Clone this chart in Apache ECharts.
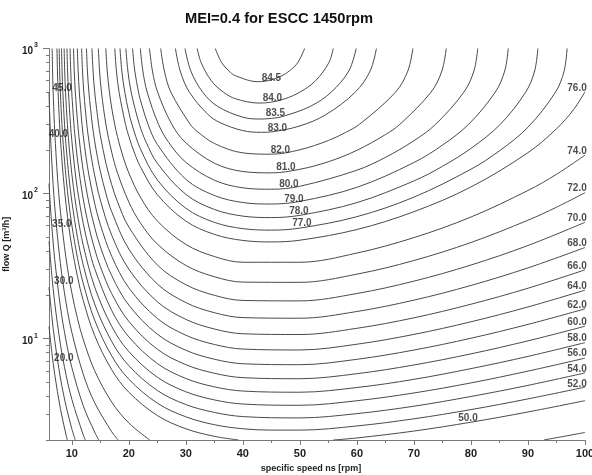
<!DOCTYPE html>
<html><head><meta charset="utf-8">
<script src="https://cdn.jsdelivr.net/npm/echarts@6/dist/echarts.min.js"></script>
<style>html,body{margin:0;padding:0;background:#fff}#chart{width:592px;height:475px}</style>
</head><body><div id="chart"></div>
<script>
// Contour lines: each point is [specific speed ns, flow Q]; null = gap
const c20 = [[6,12.11],[6.5,8.02],[7,5.69],[8,3.29],[9,2.16],[9.215,2]];
const c25 = [[6,22.6],[6.5,14.23],[7,9.73],[8,5.36],[9,3.42],[10,2.39],[10.6,2]];
const c30 = [[6,46.9],[6.5,27.3],[7,17.71],[8,9.15],[9,5.6],[10,3.82],[12,2.17],[12.37,2]];
const c35 = [[6,117.1],[6.25,80.9],[6.5,59.1],[7,35.3],[8,16.59],[9,9.63],[10,6.34],[12,3.45],[14,2.27],[14.74,2]];
const c40 = [[6,498.6],[6.1,369],[6.25,258],[6.5,162],[7,81.9],[8,32.9],[9,17.63],[10,11.07],[12,5.7],[14,3.62],[17,2.28],[18.12,2]];
const c45 = [[6.554,1000],[6.625,700],[6.705,530],[6.939,300],[7,267.3],[7.5,127.6],[8,75.4],[9,35.5],[10,20.73],[11,13.73],[12,9.88],[14,6.02],[17,3.65],[20,2.62],[23.66,2],null,[92.77,2],[96,2.108],[100,2.254]];
const c50 = [[7.395,1000],[7.478,700],[7.595,500],[7.851,300],[8,238.3],[8.5,130.9],[9,83.6],[9.5,58.4],[10,43.2],[11,26.67],[12,18.33],[14,10.53],[17,6.1],[20,4.27],[25,2.95],[30,2.39],[35,2.12],[39.27,2],null,[55.88,2],[60,2.066],[70,2.305],[80,2.653],[90,3.121],[100,3.734]];
const c52 = [[7.78,1000],[7.869,700],[7.994,500],[8.27,300],[8.5,217.7],[9,127.6],[9.5,84.7],[10,60.7],[11,35.9],[12,24.06],[14,13.43],[17,7.6],[20,5.25],[25,3.59],[30,2.89],[35,2.55],[40,2.39],[45,2.34],[50,2.34],[60,2.5],[70,2.8],[80,3.24],[90,3.84],[100,4.63]];
const c54 = [[8.197,1000],[8.292,700],[8.428,500],[8.725,300],[9,211.5],[9.5,129.7],[10,88.6],[11,49.6],[12,32.2],[14,17.34],[17,9.55],[20,6.51],[25,4.39],[30,3.51],[35,3.1],[40,2.9],[50,2.84],[60,3.04],[70,3.42],[80,3.99],[90,4.76],[100,5.8]];
const c56 = [[8.652,1000],[8.754,700],[8.901,500],[9.223,300],[9.5,216.6],[10,136.9],[10.5,95.5],[11,70.9],[12,44.1],[14,22.73],[17,12.14],[20,8.14],[25,5.42],[30,4.3],[35,3.78],[40,3.54],[50,3.47],[60,3.73],[70,4.22],[80,4.95],[90,5.97],[100,7.33]];
const c58 = [[9.149,1000],[9.259,700],[9.418,500],[9.769,300],[10,232.6],[10.5,150],[11,106.1],[12,62.4],[13,41.8],[14,30.4],[17,15.62],[20,10.28],[25,6.73],[30,5.31],[35,4.65],[40,4.35],[50,4.27],[60,4.6],[70,5.24],[80,6.21],[90,7.54],[100,9.38]];
const c60 = [[9.695,1000],[9.814,700],[9.987,500],[10.372,300],[10.5,262.4],[11,170.4],[12,91.9],[13,58.8],[14,41.55],[15,31.4],[17,20.41],[20,13.14],[25,8.45],[30,6.61],[35,5.77],[40,5.38],[50,5.29],[60,5.73],[70,6.58],[80,7.85],[90,9.65],[100,12.17]];
const c62 = [[10.299,1000],[10.428,700],[10.618,500],[11.042,300],[11.5,202],[12,144],[13,86.1],[14,58.6],[15,43.1],[17,27.15],[20,17.02],[25,10.72],[30,8.31],[35,7.21],[40,6.71],[50,6.61],[60,7.2],[70,8.34],[80,10.06],[90,12.53],[100,16.04]];
const c64 = [[10.97,1000],[11.111,700],[11.319,500],[11.789,300],[12,251.3],[12.5,177.5],[13,133.9],[14,85.9],[15,61.1],[17,36.9],[20,22.4],[25,13.77],[30,10.55],[35,9.11],[40,8.47],[50,8.35],[60,9.15],[70,10.69],[80,13.06],[90,16.53],[100,21.58]];
const c66 = [[11.721,1000],[11.876,700],[12.106,500],[12.631,300],[13,229.8],[13.5,171.1],[14,133.9],[15,90.3],[17,51.6],[20,30.1],[25,17.95],[30,13.57],[35,11.65],[40,10.8],[50,10.67],[60,11.78],[70,13.91],[80,17.26],[90,22.25],[100,29.79]];
const c68 = [[12.568,1000],[12.74,700],[12.997,500],[13.589,300],[14,231],[14.5,177.7],[15,142.5],[16,99.5],[17,74.9],[20,41.4],[25,23.79],[30,17.71],[35,15.09],[40,13.96],[50,13.82],[60,15.38],[70,18.42],[80,23.25],[90,30.73],[100,42.46]];
const c70 = [[13.534,1000],[13.726,700],[14.017,500],[14.693,300],[15,251.6],[16,160.7],[17,114.9],[18,88],[20,58.8],[25,32.2],[30,23.53],[35,19.88],[40,18.33],[50,18.2],[60,20.46],[70,24.9],[80,32.16],[90,43.84],[100,63.36]];
const c72 = [[14.651,1000],[14.868,700],[15.2,500],[16,297.4],[17,192.3],[18,139.2],[20,87.4],[22,63],[25,44.86],[30,31.95],[35,26.71],[40,24.52],[50,24.43],[60,27.82],[70,34.55],[80,45.99],[90,65.5],[95,80.5],[100,101.3]];
const c74 = [[15.962,1000],[16.211,700],[16.6,500],[17,388.5],[17.525,300],[18,247.3],[19,178.7],[20,138.7],[22,94.8],[25,64.7],[30,44.6],[35,36.8],[40,33.6],[50,33.6],[60,38.9],[70,49.7],[80,68.9],[90,105],[95,135.7],[100,184.1]];
const c76 = [[17.535,1000],[17.826,700],[18.29,500],[19.418,300],[20,247.9],[21,190.1],[22,153.8],[25,98.2],[30,64.6],[35,52.3],[40,47.5],[45,46.4],[50,47.7],[60,56.5],[70,75],[80,111],[90,191.4],[95,279.6],[98,379.5],[100,502.9]];
const c77 = [[18.45,1000],[18.77,700],[19.29,500],[20,362.7],[20.547,300],[22,205],[25,124.3],[30,79.2],[35,63.3],[40,57.3],[45,55.96],[50,57.8],[60,69.3],[70,94.5],[80,147.2],[85,197.1],[90,286.8],[94.82,500],[96.34,700],[96.86,1000]];
const c78 = [[19.481,1000],[19.834,700],[20.41,500],[21.85,300],[23,227.8],[25,161.6],[30,98.7],[35,77.7],[40,69.9],[45,68.3],[50,70.8],[60,86.6],[70,122.2],[75,154.1],[80,204.8],[85.14,300],[89.59,500],[91.17,700],[91.73,1000]];
const c79 = [[20.652,1000],[21.047,700],[21.7,500],[22,445.5],[23.37,300],[25,218.1],[30,125.5],[35,97],[40,86.7],[45,84.7],[50,88.3],[60,110.4],[70,163.7],[75,215.8],[79.58,300],[84.26,500],[85.92,700],[86.54,1000]];
const c80 = [[22.01,1000],[22.46,700],[23.22,500],[25.21,300],[27,225],[30,164.2],[35,123.6],[40,109.5],[45,107.1],[50,112.3],[60,144.9],[65,177.6],[70,231.4],[73.79,300],[78.75,500],[80.52,700],[81.19,1000]];
const c81 = [[23.62,1000],[24.14,700],[25.05,500],[27.54,300],[30,223.7],[35,162],[40,141.9],[45,138.9],[50,147],[55,165.7],[60,198.6],[65,255],[67.53,300],[72.99,500],[74.9,700],[75.67,1000]];
const c82 = [[25.59,1000],[26.23,700],[27.38,500],[30.77,300],[32,267.9],[35,221.6],[40,190.7],[45,186.8],[50,200.4],[55,232.2],[58,263.7],[60.44,300],[66.77,500],[68.93,700],[69.82,1000]];
const c83 = [[28.17,1000],[29.01,700],[30.62,500],[33.91,350],[36,308.3],[40,271.6],[43.21,264.3],[45,266.3],[50,292.6],[54.55,350],[59.71,500],[62.32,700],[63.42,1000]];
const c83_5 = [[29.85,1000],[30.87,700],[32.95,500],[35.53,400],[40,335.9],[43.07,326.4],[45,329.8],[47,340.2],[51.87,400],[55.49,500],[58.58,700],[59.87,1000]];
const c84 = [[31.99,1000],[32.68,800],[34.46,600],[36.58,500],[38.74,450],[42.88,420.5],[45,426.9],[47.36,450],[49.99,500],[52.76,600],[55.09,800],[55.85,1000]];
const c84_5 = [[35.16,1000],[36.27,800],[37.55,700],[38.66,650],[42.64,590.2],[45,607.6],[46.87,650],[48.15,700],[49.64,800],[50.83,1000]];

const contourLines = [
  [20, c20], [25, c25], [30, c30], [35, c35], [40, c40], [45, c45], [50, c50],
  [52, c52], [54, c54], [56, c56], [58, c58], [60, c60], [62, c62], [64, c64],
  [66, c66], [68, c68], [70, c70], [72, c72], [74, c74], [76, c76], [77, c77],
  [78, c78], [79, c79], [80, c80], [81, c81], [82, c82], [83, c83], [83.5, c83_5],
  [84, c84], [84.5, c84_5]
];

const xTickValues = [10, 20, 30, 40, 50, 60, 70, 80, 90, 100];
const xMinorTickValues = [15, 25, 35, 45, 55, 65, 75, 85, 95];
const yTickValues = [10, 100, 1000];
const yMinorTickValues = [2,3,4,5,6,7,8,9,20,30,40,50,60,70,80,90,200,300,400,500,600,700,800,900];

// label layout: [level, ns of the contour point carrying the label, pixel offset x, pixel offset y]
const labelPlacement = [
  [84.5, 45, 0, -2], [84, 45, 1, -4], [83.5, 45, 4, -5], [83, 45, 6, -4], [82, 45, 9, -4],
  [81, 50, -14, -2], [80, 50, -11, -2], [79, 50, -6, -2], [78, 50, -1, -4], [77, 50, 2, -5],
  [76, 100, -8, -4], [74, 100, -8, -4], [72, 100, -8, -4], [70, 100, -8, -4], [68, 100, -8, -4],
  [66, 100, -8, -4], [64, 100, -8, -4], [62, 100, -8, -4], [60, 100, -8, -4], [58, 100, -8, -4],
  [56, 100, -8, -5], [54, 100, -8, -4], [52, 100, -8, -3],
  [50, 80, -3, -4], [45, 6.705, 9, 0], [40, 6.25, 8, 0], [35, 6.5, 10, -2], [30, 6.5, 12, 6], [20, 6.5, 12, 6]
];

const FONT = "'Liberation Sans', Arial, Helvetica, sans-serif";
const LINE_COLOR = '#4a4a4a';
const AXIS_COLOR = '#7a7a7a';
const TEXT_COLOR = '#1e1e1e';

const series = [];
contourLines.forEach(([level, pts]) => {
  let seg = [];
  const flush = () => {
    if (seg.length > 1) {
      series.push({
        type: 'line', data: seg, smooth: 0.35, showSymbol: false, silent: true,
        xAxisIndex: 0, yAxisIndex: 0, clip: true,
        lineStyle: { color: LINE_COLOR, width: 1 }, emphasis: { disabled: true }
      });
    }
    seg = [];
  };
  pts.forEach(p => { if (p === null) flush(); else seg.push(p); });
  flush();
});

const labelItems = [];
labelPlacement.forEach(([level, ns, dx, dy]) => {
  const entry = contourLines.find(c => c[0] === level);
  const pt = entry[1].find(p => p && p[0] === ns);
  if (pt) labelItems.push({ value: pt, label: { formatter: level.toFixed(1), offset: [dx, dy] } });
});
series.push({
  type: 'scatter', data: labelItems, symbolSize: 0, clip: false, silent: true, z: 5,
  xAxisIndex: 0, yAxisIndex: 0,
  label: { show: true, position: 'inside', fontSize: 10, fontWeight: 'bold', color: TEXT_COLOR, fontFamily: FONT },
  emphasis: { disabled: true }
});

const chart = echarts.init(document.getElementById('chart'), null, { renderer: 'canvas' });
chart.setOption({
  animation: false,
  backgroundColor: '#ffffff',
  title: {
    text: 'MEI=0.4 for ESCC 1450rpm', left: 185, top: 11, padding: 0,
    textStyle: { fontSize: 14.7, fontWeight: 'bold', color: '#111', fontFamily: FONT }
  },
  grid: { left: 49, right: 7, top: 48.5, bottom: 35, containLabel: false, outerBoundsMode: 'none' },
  xAxis: [
    {
      type: 'value', min: 6, max: 100, position: 'bottom',
      axisLine: { show: true, lineStyle: { color: AXIS_COLOR, width: 1 } },
      axisTick: { show: true, customValues: xTickValues, length: 5, lineStyle: { color: AXIS_COLOR } },
      axisLabel: { customValues: xTickValues, margin: 8, fontSize: 11, fontWeight: 'bold', color: TEXT_COLOR, fontFamily: FONT },
      splitLine: { show: false },
      name: 'specific speed ns [rpm]', nameLocation: 'middle', nameGap: 23,
      nameTextStyle: { fontSize: 9, fontWeight: 'bold', color: TEXT_COLOR, fontFamily: FONT, padding: [0, 12, 0, 0] }
    },
    {
      type: 'value', min: 6, max: 100, position: 'bottom',
      axisLine: { show: false },
      axisTick: { show: true, customValues: xMinorTickValues, length: 3, lineStyle: { color: AXIS_COLOR } },
      axisLabel: { show: false }, splitLine: { show: false }
    }
  ],
  yAxis: [
    {
      type: 'log', logBase: 10, min: 2, max: 1000, position: 'left',
      axisLine: { show: true, lineStyle: { color: AXIS_COLOR, width: 1 } },
      axisTick: { show: true, customValues: yTickValues, length: 6, lineStyle: { color: AXIS_COLOR } },
      axisLabel: {
        customValues: yTickValues, margin: 11, color: TEXT_COLOR, fontFamily: FONT,
        formatter: v => '{b|10}{s|' + Math.round(Math.log10(v)) + '}',
        rich: {
          b: { fontSize: 10, fontWeight: 'bold', color: TEXT_COLOR, fontFamily: FONT, padding: [6, 0, 0, 0] },
          s: { fontSize: 7, fontWeight: 'bold', color: TEXT_COLOR, fontFamily: FONT, padding: [0, 0, 6, 1] }
        }
      },
      splitLine: { show: false },
      name: 'flow Q [m³/h]', nameLocation: 'middle', nameGap: 33,
      nameTextStyle: { fontSize: 9, fontWeight: 'bold', color: TEXT_COLOR, fontFamily: FONT }
    },
    {
      type: 'log', logBase: 10, min: 2, max: 1000, position: 'left',
      axisLine: { show: false },
      axisTick: { show: true, customValues: yMinorTickValues, length: 3, lineStyle: { color: AXIS_COLOR } },
      axisLabel: { show: false }, splitLine: { show: false }
    }
  ],
  series: series
});
</script>
</body></html>
